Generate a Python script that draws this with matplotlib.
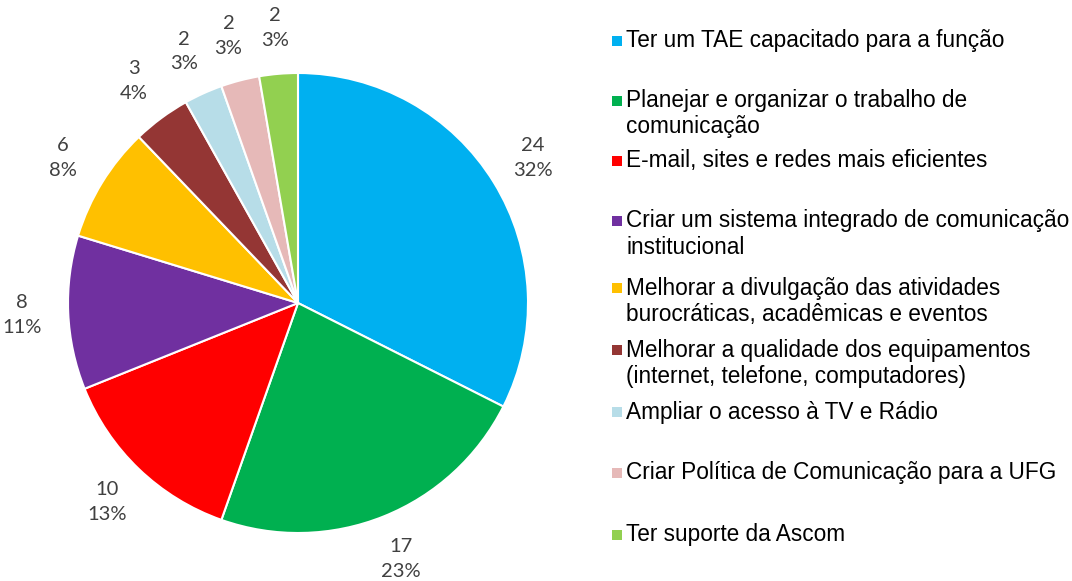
import matplotlib
matplotlib.use("Agg")
import matplotlib.pyplot as plt
from matplotlib.patches import Rectangle

categories = [
    "Ter um TAE capacitado para a função",
    "Planejar e organizar o trabalho de\ncomunicação",
    "E-mail, sites e redes mais eficientes",
    "Criar um sistema integrado de comunicação\ninstitucional",
    "Melhorar a divulgação das atividades\nburocráticas, acadêmicas e eventos",
    "Melhorar a qualidade dos equipamentos\n(internet, telefone, computadores)",
    "Ampliar o acesso à TV e Rádio",
    "Criar Política de Comunicação para a UFG",
    "Ter suporte da Ascom",
]
values = [24, 17, 10, 8, 6, 3, 2, 2, 2]
percents = [32, 23, 13, 11, 8, 4, 3, 3, 3]
colors = ["#00B0F0", "#00B050", "#FF0000", "#7030A0", "#FFC000",
          "#943634", "#B7DDE8", "#E6B9B8", "#92D050"]

W, H = 1072, 581
fig = plt.figure(figsize=(W / 100, H / 100), dpi=100)

cx, cy, r = 298, 303, 230
ax = fig.add_axes([(cx - r) / W, (H - cy - r) / H, 2 * r / W, 2 * r / H])

label_iter = iter([f"{v}\n{p}%" for v, p in zip(values, percents)])

wedges, texts, autotexts = ax.pie(
    values, colors=colors, startangle=90, counterclock=False,
    autopct=lambda pct: next(label_iter), pctdistance=1.2,
    wedgeprops=dict(edgecolor="white", linewidth=1.5),
    textprops=dict(fontsize=14.5, color="#404040", family=["Lato", "DejaVu Sans"],
                   linespacing=1.55),
)
ax.set_xlim(-1, 1)
ax.set_ylim(-1, 1)
ax.set_aspect("equal")

# Legend drawn manually
legend_y = [41, 101, 161, 221, 288, 350, 412, 473, 535]
line_gap = 26
for lab, col, y in zip(categories, colors, legend_y):
    fig.patches.append(Rectangle((612 / W, (H - y - 5) / H), 10 / W, 10 / H,
                                 transform=fig.transFigure, facecolor=col,
                                 edgecolor="none"))
    for i, line in enumerate(lab.split("\n")):
        fig.text(626 / W, (H - y - i * line_gap) / H, line, ha="left", va="center",
                 fontsize=16.3, family=["Liberation Sans", "DejaVu Sans"],
                 color="black")

fig.savefig("out.png", dpi=100)
